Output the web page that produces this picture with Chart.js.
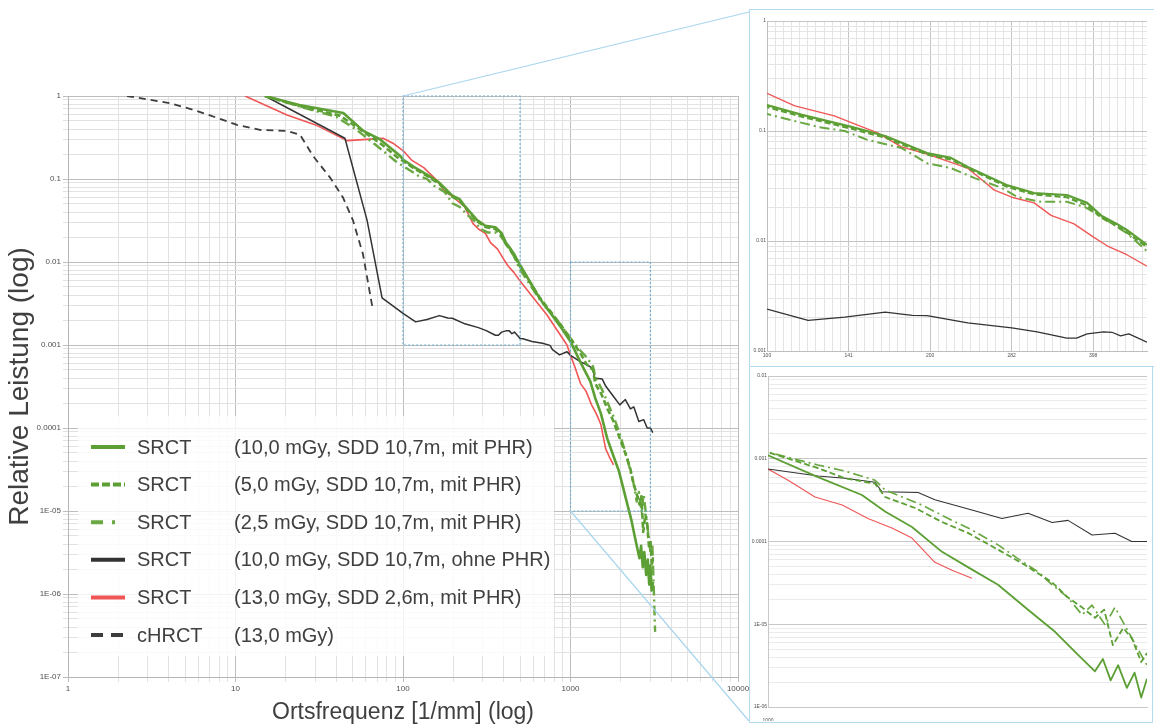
<!DOCTYPE html>
<html>
<head>
<meta charset="utf-8">
<script src="https://cdn.jsdelivr.net/npm/chart.js@4"></script>
<style>
html, body { margin: 0; padding: 0; background: #fff; }
#wrap { position: relative; width: 1154px; height: 726px; overflow: hidden; }
canvas { position: absolute; }
.frame { position: absolute; border: 1.5px solid #b3dcf0; box-sizing: border-box; background: #fff; }
</style>
</head>
<body>
<div id="wrap">
  <canvas id="mainChart" width="1154" height="726" style="left:0;top:0"></canvas>
  <div class="frame" style="left:749px;top:9px;width:406px;height:358px"></div>
  <canvas id="zoomTop" width="402" height="354" style="left:751px;top:11px"></canvas>
  <div class="frame" style="left:749px;top:366px;width:404px;height:357px"></div>
  <canvas id="zoomBottom" width="400" height="353" style="left:751px;top:368px"></canvas>
</div>
<script>
// Werte (Ortsfrequenz in 1/mm, relative Leistung)
const srct10Freq = [15, 24, 44, 58, 73, 96, 100, 116, 143, 165, 197, 218, 234, 277, 310, 356, 388, 412, 440, 459,
  500, 657, 865, 1000, 1156, 1313, 1404, 1518, 1656, 1785, 1948, 2125, 2298, 2455, 2580, 2640, 2700, 2759, 2830, 2894,
  2950, 3000, 3050, 3110];
const srct10Power = [1, 0.78, 0.625, 0.38, 0.30, 0.19, 0.172, 0.14, 0.109, 0.09, 0.063, 0.057, 0.047, 0.032, 0.0273, 0.0262, 0.0222, 0.017, 0.0143, 0.0126,
  0.0092, 0.0036, 0.0017, 0.0011, 0.0006, 0.000365, 0.00023, 0.00015, 0.000075, 0.000049, 0.00003, 0.000015, 0.0000081, 0.0000043, 0.0000027, 0.0000038, 0.0000021, 0.0000032, 0.0000017, 0.0000026,
  0.0000013, 0.0000022, 0.0000011, 0.0000014];

const srct5Freq = [15, 24, 42, 55, 73, 95, 100, 116, 143, 165, 197, 218, 234, 277, 310, 356, 388, 412, 440, 459,
  500, 657, 865, 1000, 1156, 1250, 1364, 1404, 1532, 1656, 1785, 1970, 2107, 2279, 2386, 2485, 2580, 2650, 2717, 2800,
  2871, 2950, 3000, 3060, 3110];
const srct5Power = [1, 0.76, 0.58, 0.40, 0.27, 0.175, 0.165, 0.135, 0.105, 0.087, 0.061, 0.055, 0.046, 0.031, 0.0265, 0.025, 0.021, 0.0163, 0.0137, 0.012,
  0.0088, 0.0037, 0.0018, 0.0012, 0.00077, 0.00058, 0.0005, 0.000345, 0.000254, 0.000172, 0.000127, 0.000075, 0.000052, 0.000032, 0.000021, 0.000016, 0.000012, 0.000015, 0.0000056, 0.000009,
  0.0000068, 0.0000035, 0.0000045, 0.0000022, 0.0000028];

const srct25Freq = [15, 24, 40, 52, 70, 90, 100, 124, 139, 153, 177, 197, 218, 241, 270, 289, 320, 356, 384, 412,
  459, 500, 657, 865, 1000, 1156, 1250, 1364, 1404, 1563, 1705, 1806, 1948, 2059, 2188, 2279, 2386, 2485, 2558, 2657,
  2734, 2871, 3000, 3080, 3140, 3200];
const srct25Power = [1, 0.75, 0.56, 0.40, 0.25, 0.165, 0.143, 0.109, 0.1, 0.083, 0.07, 0.051, 0.046, 0.0373, 0.0305, 0.025, 0.0227, 0.0227, 0.0204, 0.0166,
  0.0118, 0.0081, 0.0035, 0.0018, 0.0012, 0.00084, 0.00071, 0.00055, 0.00042, 0.000275, 0.00018, 0.000138, 0.000091, 0.000063, 0.000043, 0.00003, 0.000021, 0.000013, 0.000017, 0.0000098,
  0.000016, 0.0000068, 0.0000032, 0.000004, 0.0000012, 0.00000035];

const ohneFreq = [15, 45, 61, 75, 100, 119, 139, 165, 185, 197, 234, 282, 314, 356, 371, 388, 416, 431, 447, 463,
  500, 520, 589, 680, 755, 780, 860, 953, 1000, 1156, 1250, 1364, 1391, 1545, 1622, 1806, 1970, 2125, 2279, 2386,
  2558, 2734, 2871, 3000, 3100];
const ohnePower = [1, 0.31, 0.032, 0.0037, 0.0024, 0.0019, 0.00203, 0.00226, 0.00211, 0.0021, 0.0018, 0.00162, 0.00149, 0.00131, 0.00131, 0.00143, 0.00149, 0.00148, 0.00137, 0.00143,
  0.0012, 0.00119, 0.0011, 0.00105, 0.00099, 0.00088, 0.00076, 0.00083, 0.00075, 0.00062, 0.00058, 0.00052, 0.0004, 0.00039, 0.00032, 0.00024, 0.00019, 0.00022, 0.00017, 0.00018,
  0.00012, 0.000126, 0.0001, 0.0001, 0.000088];

const sdd26Freq = [11.4, 20.3, 30.7, 46.3, 61, 76, 87, 100, 112.5, 133, 146.8, 159.8, 176.7, 197, 214.8, 233.7, 262, 282, 310, 333,
  367, 398, 423, 459, 500, 724, 953, 1000, 1060, 1146, 1240, 1336, 1432, 1518, 1622, 1705, 1806];
const sdd26Power = [1, 0.59, 0.44, 0.29, 0.30, 0.31, 0.27, 0.22, 0.169, 0.137, 0.113, 0.096, 0.0716, 0.0618, 0.0533, 0.046, 0.029, 0.025, 0.0222, 0.0171,
  0.0143, 0.0109, 0.009, 0.0075, 0.0059, 0.0023, 0.001, 0.00075, 0.00055, 0.000345, 0.000276, 0.00019, 0.000146, 0.00011, 0.000056, 0.000045, 0.000036];

const chrctFreq = [2.25, 4.06, 5.9, 10.2, 14, 20.3, 24.3, 29, 36.7, 43.8, 50.2, 57.7, 66.2];
const chrctPower = [1, 0.82, 0.66, 0.45, 0.39, 0.38, 0.34, 0.19, 0.104, 0.06, 0.032, 0.0124, 0.0026];

const seriesNames = ['SRCT', 'SRCT', 'SRCT', 'SRCT', 'SRCT', 'cHRCT'];
const seriesNotes = ['(10,0 mGy, SDD 10,7m, mit PHR)', '(5,0 mGy, SDD 10,7m, mit PHR)', '(2,5 mGy, SDD 10,7m, mit PHR)',
  '(10,0 mGy, SDD 10,7m, ohne PHR)', '(13,0 mGy, SDD 2,6m, mit PHR)', '(13,0 mGy)'];

// Achsenbeschriftungen (Dekaden)
const mainXLabels = ['1', '10', '100', '1000', '10000'];
const mainYLabels = ['1E-07', '1E-06', '1E-05', '0.0001', '0.001', '0.01', '0.1', '1'];
const zoomTopXLabels = ['100', '141', '200', '282', '398'];
const zoomTopYLabels = ['0.001', '0.01', '0.1', '1'];
const zoomBottomXLabels = ['1000'];
const zoomBottomYLabels = ['1E-06', '1E-05', '0.0001', '0.001', '0.01'];

// Ausschnitte, die rechts vergroessert sind
const zoomBoxes = [
  { x: [100, 500], y: [0.001, 1] },
  { x: [1000, 3000], y: [0.00001, 0.01] }
];

const FONT = '"Liberation Sans", Arial, sans-serif';
const GREEN = '#5c9f34';

const series = [
  { xs: srct10Freq, ys: srct10Power, color: GREEN, width: 2.6, dash: [], legendDash: [] },
  { xs: srct5Freq, ys: srct5Power, color: GREEN, width: 2.6, dash: [6, 3], legendDash: [8, 3] },
  { xs: srct25Freq, ys: srct25Power, color: '#6aa843', width: 2.4, dash: [10, 4, 2, 4], legendDash: [12, 9, 3, 20] },
  { xs: ohneFreq, ys: ohnePower, color: '#333333', width: 1.5, dash: [], legendDash: [] },
  { xs: sdd26Freq, ys: sdd26Power, color: '#f05656', width: 1.6, dash: [], legendDash: [] },
  { xs: chrctFreq, ys: chrctPower, color: '#3d3d3d', width: 1.8, dash: [7, 5], legendDash: [12, 8] }
];

function makeDatasets(widthScale) {
  return series.map((s, i) => ({
    label: seriesNames[i] + ' ' + seriesNotes[i],
    data: s.xs.map((x, k) => ({ x: x, y: s.ys[k] })),
    borderColor: s.color,
    borderWidth: s.width * widthScale,
    borderDash: s.dash,
    borderJoinStyle: 'round',
    pointRadius: 0,
    tension: 0,
    fill: false
  }));
}

function isDecade(v) {
  const e = Math.log10(v);
  return Math.abs(e - Math.round(e)) < 1e-6;
}

function decadeTicks(minExp, maxExp) {
  const t = [];
  for (let e = minExp; e < maxExp; e++) {
    for (let m = 1; m <= 9; m++) t.push({ value: m * Math.pow(10, e) });
  }
  t.push({ value: Math.pow(10, maxExp) });
  return t;
}

function decadeLabel(v, minExp, labels) {
  return isDecade(v) ? labels[Math.round(Math.log10(v)) - minExp] : '';
}

const decadeGrid = (major, minor) => (ctx) => (ctx.tick && isDecade(ctx.tick.value) ? major : minor);

const legendPlugin = {
  id: 'boxLegend',
  beforeDatasetsDraw(chart) {
    const c = chart.ctx;
    c.save();
    c.fillStyle = 'rgba(255,255,255,0.82)';
    c.fillRect(78, 416, 476, 240);
    c.font = '20px ' + FONT;
    c.textBaseline = 'middle';
    series.forEach((s, i) => {
      const y = 447 + i * 37.6;
      c.beginPath();
      c.strokeStyle = s.color;
      c.lineWidth = 4;
      c.setLineDash(s.legendDash);
      c.moveTo(91, y);
      c.lineTo(125, y);
      c.stroke();
      c.setLineDash([]);
      c.fillStyle = '#404040';
      c.fillText(seriesNames[i], 137, y + 1);
      c.fillText(seriesNotes[i], 234, y + 1);
    });
    c.restore();
  }
};

const zoomBoxPlugin = {
  id: 'zoomBoxes',
  afterDraw(chart) {
    const c = chart.ctx, xs = chart.scales.x, ys = chart.scales.y;
    const rects = zoomBoxes.map(b => ({
      l: xs.getPixelForValue(b.x[0]), r: xs.getPixelForValue(b.x[1]),
      t: ys.getPixelForValue(b.y[1]), b: ys.getPixelForValue(b.y[0])
    }));
    c.save();
    c.strokeStyle = '#6eb0d8';
    c.lineWidth = 1.2;
    c.setLineDash([2, 2]);
    rects.forEach(r => c.strokeRect(r.l, r.t, r.r - r.l, r.b - r.t));
    c.setLineDash([]);
    c.strokeStyle = '#a9d6ee';
    c.lineWidth = 1.2;
    c.beginPath();
    c.moveTo(rects[0].l, rects[0].t);
    c.lineTo(749, 12);
    c.moveTo(rects[1].l, rects[1].b);
    c.lineTo(749, 721);
    c.stroke();
    c.restore();
  }
};

const common = {
  responsive: false,
  animation: false,
  events: [],
  plugins: { legend: { display: false }, tooltip: { enabled: false } }
};

// Hauptdiagramm
new Chart(document.getElementById('mainChart'), {
  type: 'line',
  data: { datasets: makeDatasets(1) },
  options: Object.assign({}, common, {
    layout: { padding: { left: 0, top: 96, right: 416, bottom: 0 } },
    scales: {
      x: {
        type: 'logarithmic', min: 1, max: 10000,
        afterFit: s => { s.height = 49; },
        afterBuildTicks: s => { s.ticks = decadeTicks(0, 4); },
        ticks: { autoSkip: false, maxRotation: 0, padding: 2, color: '#505050', font: { size: 8, family: FONT },
          callback: v => decadeLabel(v, 0, mainXLabels) },
        grid: { color: decadeGrid('#bdbdbd', '#e2e2e2'), tickLength: 5 },
        border: { color: '#b5b5b5' },
        title: { display: true, text: 'Ortsfrequenz [1/mm] (log)', color: '#404040', font: { size: 23, family: FONT },
          padding: { top: 0, bottom: 0 } }
      },
      y: {
        type: 'logarithmic', min: 1e-7, max: 1,
        afterFit: s => { s.width = 68; },
        afterBuildTicks: s => { s.ticks = decadeTicks(-7, 0); },
        ticks: { autoSkip: false, padding: 2, color: '#505050', font: { size: 8, family: FONT },
          callback: v => decadeLabel(v, -7, mainYLabels) },
        grid: { color: decadeGrid('#bdbdbd', '#e2e2e2'), tickLength: 5 },
        border: { color: '#b5b5b5' },
        title: { display: true, text: 'Relative Leistung (log)', color: '#404040', font: { size: 28, family: FONT },
          padding: { top: 3, bottom: 0 } }
      }
    }
  }),
  plugins: [legendPlugin, zoomBoxPlugin]
});

// Vergroesserung oben: 100 - 500 1/mm
const topStep = 0.015;
new Chart(document.getElementById('zoomTop'), {
  type: 'line',
  data: { datasets: makeDatasets(0.85) },
  options: Object.assign({}, common, {
    layout: { padding: { left: 0, top: 10, right: 6, bottom: 0 } },
    scales: {
      x: {
        type: 'logarithmic', min: 100, max: 500,
        afterFit: s => { s.height = 14; },
        afterBuildTicks: s => {
          const t = [];
          for (let k = 0; 2 + k * topStep <= Math.log10(500) + 1e-9; k++) t.push({ value: Math.pow(10, 2 + k * topStep) });
          s.ticks = t;
        },
        ticks: { autoSkip: false, maxRotation: 0, padding: 2, color: '#505050', font: { size: 5, family: FONT },
          callback: (v, i) => (i % 10 === 0 ? zoomTopXLabels[i / 10] : '') },
        grid: { color: ctx => (ctx.index % 10 === 0 ? '#c4c4c4' : '#e4e4e4'), drawTicks: false },
        border: { color: '#bdbdbd' }
      },
      y: {
        type: 'logarithmic', min: 0.001, max: 1,
        afterFit: s => { s.width = 16; },
        afterBuildTicks: s => { s.ticks = decadeTicks(-3, 0); },
        ticks: { autoSkip: false, padding: 1, color: '#505050', font: { size: 5, family: FONT },
          callback: v => decadeLabel(v, -3, zoomTopYLabels) },
        grid: { color: decadeGrid('#c4c4c4', '#e4e4e4'), drawTicks: false },
        border: { color: '#bdbdbd' }
      }
    }
  })
});

// Vergroesserung unten: 1000 - 3000 1/mm
new Chart(document.getElementById('zoomBottom'), {
  type: 'line',
  data: { datasets: makeDatasets(0.7) },
  options: Object.assign({}, common, {
    layout: { padding: { left: 0, top: 8, right: 4, bottom: 0 } },
    scales: {
      x: {
        type: 'logarithmic', min: 1000, max: 3000,
        afterFit: s => { s.height = 14; },
        afterBuildTicks: s => { s.ticks = [{ value: 1000 }]; },
        ticks: { autoSkip: false, maxRotation: 0, padding: 3, color: '#505050', font: { size: 5, family: FONT },
          callback: (v, i) => zoomBottomXLabels[i] },
        grid: { display: false },
        border: { color: '#c8c8c8' }
      },
      y: {
        type: 'logarithmic', min: 1e-6, max: 0.01,
        afterFit: s => { s.width = 17; },
        afterBuildTicks: s => { s.ticks = decadeTicks(-6, -2); },
        ticks: { autoSkip: false, padding: 1, color: '#505050', font: { size: 5, family: FONT },
          callback: v => decadeLabel(v, -6, zoomBottomYLabels) },
        grid: { color: decadeGrid('#c8c8c8', '#ebebeb'), drawTicks: false },
        border: { color: '#c8c8c8' }
      }
    }
  })
});
</script>
</body>
</html>
